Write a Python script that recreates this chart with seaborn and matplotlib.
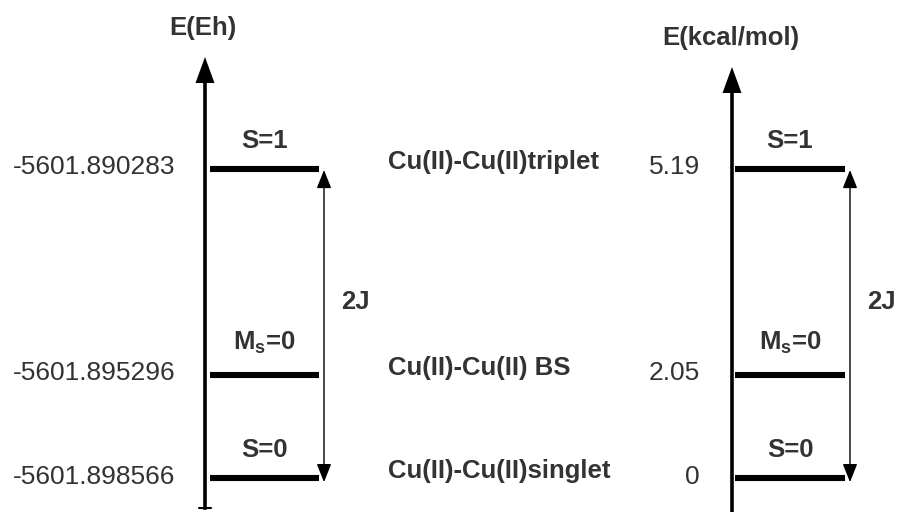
import matplotlib
matplotlib.use('Agg')
import matplotlib.pyplot as plt
import matplotlib.transforms as mtransforms
import seaborn as sns
import pandas as pd

# energy levels of the Cu(II)-Cu(II) dimer (lowest first)
STATES = ['Cu(II)-Cu(II)singlet', 'Cu(II)-Cu(II) BS', 'Cu(II)-Cu(II)triplet']
SPIN_LABELS = ['S=0', r'M$_\mathregular{s}$=0', 'S=1']
ENERGY_EH = [-5601.898566, -5601.895296, -5601.890283]
ENERGY_KCAL = [0, 2.05, 5.19]
# schematic (not to scale) vertical spacing of the levels
LEVEL_POS = [0, 1, 3]
COUPLING = '2J'

sns.set_theme(style='white')
plt.rcParams['font.family'] = ['Liberation Sans', 'DejaVu Sans']
plt.rcParams['mathtext.fontset'] = 'custom'
plt.rcParams['mathtext.rm'] = 'Liberation Sans'
plt.rcParams['mathtext.bf'] = 'Liberation Sans:bold'

TXT = '#333333'
FS = 19      # tick labels
FSB = 18.5   # bold labels
W, H = 899, 512

fig = plt.figure(figsize=(W / 100, H / 100), dpi=100)
fig.patch.set_facecolor('white')

# pixel -> level position: 103 px per unit, level 0 at pixel row 478
ylo, yhi = (478 - 512) / 103, 478 / 103

ax1 = fig.add_axes([205 / W, 0, 300 / W, 1])
ax2 = fig.add_axes([732 / W, 0, 167 / W, 1])


def draw_panel(ax, tick_labels, x0, x1, arrow_x, ytop, ybase, spine_lo, pad,
               bottom_tick):
    ax.set_xlim(0, ax.get_position().width * W)
    ax.set_ylim(ylo, yhi)

    df = pd.DataFrame({
        'state': [s for s in STATES for _ in range(2)],
        'x': [x for _ in STATES for x in (x0, x1)],
        'pos': [p for p in LEVEL_POS for _ in range(2)],
    })
    sns.lineplot(data=df, x='x', y='pos', units='state', estimator=None,
                 color='black', lw=4.4, ax=ax, legend=False,
                 solid_capstyle='butt')
    ax.set_xlabel('')
    ax.set_ylabel('')
    ax.set_xticks([])
    ax.set_yticks(LEVEL_POS)
    ax.set_yticklabels(tick_labels)
    ax.tick_params(axis='y', length=0, pad=pad, labelsize=FS,
                   labelcolor=TXT)
    shift = mtransforms.ScaledTranslation(0, 0.04, fig.dpi_scale_trans)
    for lab in ax.get_yticklabels():
        lab.set_transform(lab.get_transform() + shift)

    for s in ['top', 'right', 'bottom']:
        ax.spines[s].set_visible(False)
    ax.spines['left'].set_color('black')
    ax.spines['left'].set_linewidth(2.6)
    ax.spines['left'].set_bounds(spine_lo, ybase + 0.03)
    ax.fill([-9.5, 9.5, 0], [ybase, ybase, ytop], color='black',
            clip_on=False, lw=0)
    if bottom_tick:
        ax.plot([-6, 6], [spine_lo, spine_lo], color='black', lw=1.5,
                clip_on=False)

    # spin labels above levels
    cx = (x0 + x1) / 2
    for lab, p in zip(SPIN_LABELS, LEVEL_POS):
        off = 26 if lab.startswith('M') else 21
        ax.annotate(lab, xy=(cx, p), xytext=(0, off * 0.72),
                    textcoords='offset points', ha='center', va='baseline',
                    fontsize=FSB, fontweight='bold', color=TXT)

    # coupling arrow between singlet and triplet
    ax.annotate('', xy=(arrow_x, LEVEL_POS[0] - 0.04),
                xytext=(arrow_x, LEVEL_POS[-1] - 0.01),
                arrowprops=dict(arrowstyle='<|-|>,head_length=0.7,head_width=0.28',
                                color='black', lw=1, shrinkA=0, shrinkB=0,
                                mutation_scale=16))
    ax.text(arrow_x + 31, 1.71, COUPLING, ha='center', va='center',
            fontsize=FSB, fontweight='bold', color=TXT)


draw_panel(ax1, [f'{v:.6f}' for v in ENERGY_EH], 5, 114, 119,
           (478 - 57) / 103, (478 - 83) / 103, (478 - 508) / 103, 21.6, True)
draw_panel(ax2, [f'{v:g}' for v in ENERGY_KCAL], 3, 113, 118,
           (478 - 67) / 103, (478 - 93) / 103, ylo, 23, False)

# state names between the two panels
for st, p in zip(STATES, LEVEL_POS):
    ax1.text(183, p, st, ha='left', va='baseline', fontsize=FSB,
             fontweight='bold', color=TXT)

fig.text(203 / W, 1 - 28 / H, 'E(Eh)', ha='center', va='center',
         fontsize=FSB, fontweight='bold', color=TXT)
fig.text(731 / W, 1 - 38 / H, 'E(kcal/mol)', ha='center', va='center',
         fontsize=FSB, fontweight='bold', color=TXT)

plt.savefig('out.png', dpi=100, facecolor='white')
